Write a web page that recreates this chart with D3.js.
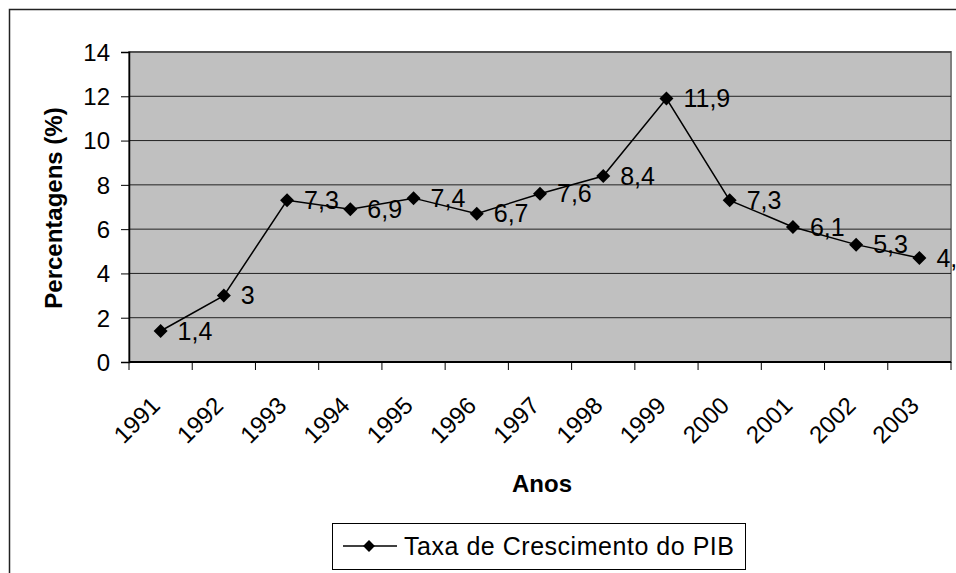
<!DOCTYPE html>
<html lang="pt">
<head>
<meta charset="UTF-8">
<title>Taxa de Crescimento do PIB</title>
<script src="https://cdn.jsdelivr.net/npm/d3@7"></script>
<style>
    body { margin: 0; background: #fff; overflow: hidden; }
    svg { display: block; }
    text { font-family: 'Liberation Sans', Arial, sans-serif; fill: #000; }
</style>
</head>
<body>
<script>
    const anos = ["1991", "1992", "1993", "1994", "1995", "1996", "1997", "1998", "1999", "2000", "2001", "2002", "2003"];
    const taxa = [1.4, 3, 7.3, 6.9, 7.4, 6.7, 7.6, 8.4, 11.9, 7.3, 6.1, 5.3, 4.7];
    const yTicks = [0, 2, 4, 6, 8, 10, 12, 14];

    const W = 956, H = 573;
    const plot = {left: 129, right: 951, top: 52, bottom: 362};
    const fs = "24px";

    const svg = d3.select("body").append("svg").attr("width", W).attr("height", H);

    // outer chart border (right and bottom edges fall outside the picture)
    svg.append("rect")
        .attr("x", 9.5).attr("y", 9.5)
        .attr("width", 1000).attr("height", 1000)
        .attr("fill", "none").attr("stroke", "#222").attr("stroke-width", 1.5);

    const x = d3.scaleBand().domain(anos).range([plot.left, plot.right]).padding(0);
    const y = d3.scaleLinear().domain([0, 14]).range([plot.bottom, plot.top]);

    // gray plot area
    svg.append("rect")
        .attr("x", plot.left).attr("y", plot.top)
        .attr("width", plot.right - plot.left).attr("height", plot.bottom - plot.top)
        .attr("fill", "#c0c0c0").attr("stroke", "#808080").attr("stroke-width", 2);

    // gridlines
    svg.append("g").selectAll("line")
        .data(yTicks.filter(d => d > 0))
        .join("line")
        .attr("x1", plot.left).attr("x2", plot.right)
        .attr("y1", d => y(d)).attr("y2", d => y(d))
        .attr("stroke", "#222").attr("stroke-width", 1);

    // y axis
    const yAxis = svg.append("g")
        .attr("transform", `translate(${plot.left},0)`)
        .call(d3.axisLeft(y).tickValues(yTicks).tickSize(8).tickPadding(11));
    yAxis.select(".domain").attr("stroke", "#000").attr("stroke-width", 1.5);
    yAxis.selectAll(".tick line").attr("stroke", "#000");
    yAxis.selectAll("text").style("font-size", fs).attr("dy", "0.35em");

    // x axis (ticks at category boundaries)
    const xAxis = svg.append("g").attr("transform", `translate(0,${plot.bottom})`);
    xAxis.append("line")
        .attr("x1", plot.left).attr("x2", plot.right)
        .attr("stroke", "#000").attr("stroke-width", 2);
    xAxis.selectAll("line.tick")
        .data(d3.range(anos.length + 1))
        .join("line").attr("class", "tick")
        .attr("x1", i => plot.left + i * x.bandwidth()).attr("x2", i => plot.left + i * x.bandwidth())
        .attr("y1", 0).attr("y2", 8)
        .attr("stroke", "#000");
    xAxis.selectAll("text")
        .data(anos)
        .join("text")
        .attr("text-anchor", "end")
        .attr("transform", d => `translate(${x(d) + x.bandwidth() / 2 - 5},${39}) rotate(-45)`)
        .attr("dy", "0.35em")
        .style("font-size", fs)
        .text(d => d);

    // axis titles
    svg.append("text")
        .attr("x", 542).attr("y", 492)
        .attr("text-anchor", "middle")
        .style("font-size", fs).style("font-weight", "bold")
        .text("Anos");
    svg.append("text")
        .attr("transform", `translate(62,208) rotate(-90)`)
        .attr("text-anchor", "middle")
        .style("font-size", fs).style("font-weight", "bold")
        .text("Percentagens (%)");

    // line and markers
    const pts = anos.map((a, i) => [x(a) + x.bandwidth() / 2, y(taxa[i])]);
    svg.append("path")
        .attr("d", d3.line()(pts))
        .attr("fill", "none").attr("stroke", "#000").attr("stroke-width", 1.5);
    const diamond = d3.symbol().type(d3.symbolDiamond2).size(125);
    svg.append("g").selectAll("path")
        .data(pts)
        .join("path")
        .attr("d", diamond)
        .attr("transform", d => `translate(${d[0]},${d[1]})`)
        .attr("fill", "#000");

    // data labels
    svg.append("g").selectAll("text")
        .data(pts)
        .join("text")
        .attr("x", d => d[0] + 17).attr("y", d => d[1])
        .attr("dy", "0.35em")
        .style("font-size", "25px")
        .text((d, i) => String(taxa[i]).replace(".", ","));

    // legend
    const lg = svg.append("g");
    lg.append("rect")
        .attr("x", 332.5).attr("y", 523.5).attr("width", 413).attr("height", 46)
        .attr("fill", "#fff").attr("stroke", "#000").attr("stroke-width", 1);
    lg.append("line")
        .attr("x1", 343).attr("x2", 397).attr("y1", 546).attr("y2", 546)
        .attr("stroke", "#000").attr("stroke-width", 1.5);
    lg.append("path").attr("d", d3.symbol().type(d3.symbolDiamond2).size(90))
        .attr("transform", "translate(369,546)").attr("fill", "#000");
    lg.append("text")
        .attr("x", 404).attr("y", 546).attr("dy", "0.35em")
        .attr("textLength", 330)
        .style("font-size", "25px")
        .text("Taxa de Crescimento do PIB");
</script>
</body>
</html>
